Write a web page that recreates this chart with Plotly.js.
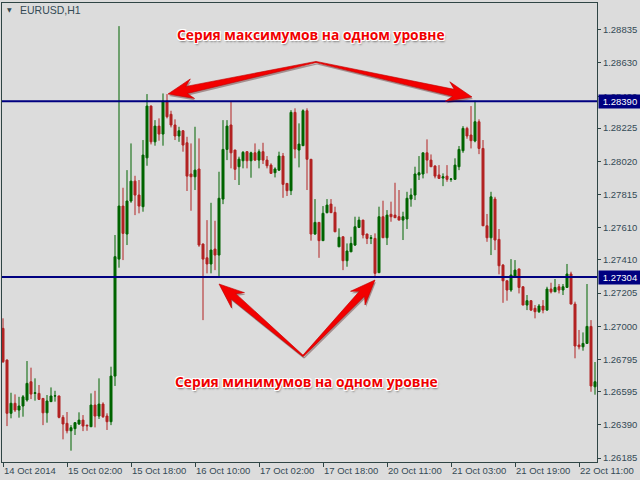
<!DOCTYPE html>
<html><head><meta charset="utf-8">
<script src="https://cdn.plot.ly/plotly-3.0.1.min.js"></script>
<style>html,body{margin:0;padding:0;background:#dcdcdc}</style>
</head><body>
<div id="chart" style="width:640px;height:480px"></div>
<script>
// ---- data (EURUSD H1) ----
const open  = [1.26987,1.26791,1.26462,1.26524,1.26482,1.26507,1.26544,1.26657,1.26585,1.26585,
1.26554,1.26465,1.26534,1.26569,1.26569,1.26437,1.26400,1.26354,1.26367,1.26396,
1.26420,1.26389,1.26379,1.26513,1.26445,1.26519,1.26445,1.26410,1.26692,1.27415,
1.27743,1.27570,1.27774,1.27897,1.27811,1.27739,1.28041,1.28361,1.28140,1.28237,
1.28188,1.28392,1.28310,1.28244,1.28176,1.28208,1.28134,1.27941,1.27924,1.27972,
1.27508,1.27423,1.27385,1.27477,1.27440,1.27786,1.28093,1.28244,1.28089,1.27986,
1.28023,1.28079,1.28023,1.28072,1.28027,1.28079,1.28027,1.27996,1.27949,1.27965,
1.28052,1.27883,1.27838,1.28322,1.28089,1.28116,1.28332,1.28032,1.27570,1.27642,
1.27529,1.27702,1.27755,1.27704,1.27491,1.27553,1.27405,1.27460,1.27502,1.27611,
1.27656,1.27570,1.27543,1.27543,1.27331,1.27677,1.27547,1.27692,1.27687,1.27677,
1.27656,1.27663,1.27786,1.27811,1.27935,1.27941,1.28072,1.28027,1.27990,1.27935,
1.27916,1.27928,1.27908,1.27908,1.27986,1.28085,1.28223,1.28182,1.28145,1.28264,
1.28099,1.27621,1.27547,1.27786,1.27537,1.27378,1.27281,1.27224,1.27310,1.27354,
1.27244,1.27131,1.27158,1.27111,1.27090,1.27125,1.27100,1.27230,1.27213,1.27244,
1.27224,1.27240,1.27323,1.27137,1.26884,1.26873,1.26894,1.26999,1.26626];
const high  = [1.27049,1.26795,1.26589,1.26579,1.26564,1.26575,1.26785,1.26744,1.26678,1.26637,
1.26556,1.26575,1.26622,1.26601,1.26571,1.26451,1.26470,1.26389,1.26408,1.26468,
1.26451,1.26390,1.26585,1.26601,1.26678,1.26530,1.26462,1.26750,1.27564,1.28855,
1.27856,1.27965,1.28130,1.27930,1.27904,1.28151,1.28435,1.28365,1.28274,1.28285,
1.28439,1.28435,1.28332,1.28279,1.28233,1.28213,1.28171,1.28130,1.28233,1.28161,
1.27512,1.27656,1.27763,1.27652,1.27955,1.28274,1.28274,1.28388,1.28091,1.28048,
1.28083,1.28083,1.28079,1.28130,1.28093,1.28134,1.28052,1.28007,1.27982,1.28079,
1.28071,1.27885,1.28336,1.28347,1.28254,1.28341,1.28347,1.28033,1.27786,1.27644,
1.27743,1.27786,1.27786,1.27739,1.27605,1.27555,1.27512,1.27553,1.27677,1.27677,
1.27658,1.27572,1.27564,1.27574,1.27739,1.27776,1.27718,1.27770,1.27887,1.27842,
1.27708,1.27831,1.27852,1.27986,1.28052,1.28072,1.28155,1.28062,1.27996,1.27996,
1.27945,1.27996,1.27916,1.28038,1.28114,1.28237,1.28233,1.28361,1.28394,1.28279,
1.28151,1.27694,1.27831,1.27800,1.27601,1.27385,1.27283,1.27415,1.27409,1.27356,
1.27246,1.27193,1.27162,1.27131,1.27137,1.27162,1.27244,1.27269,1.27292,1.27261,
1.27261,1.27385,1.27337,1.27152,1.26977,1.26962,1.27261,1.27038,1.26779];
const low   = [1.26773,1.26383,1.26431,1.26470,1.26435,1.26441,1.26534,1.26550,1.26540,1.26544,
1.26389,1.26404,1.26532,1.26534,1.26431,1.26301,1.26338,1.26231,1.26328,1.26390,
1.26352,1.26354,1.26379,1.26375,1.26427,1.26433,1.26359,1.26389,1.26631,1.27362,
1.27409,1.27502,1.27763,1.27687,1.27698,1.27708,1.27992,1.28124,1.28116,1.28147,
1.28116,1.28285,1.28229,1.28151,1.28140,1.28079,1.27836,1.27714,1.27842,1.27491,
1.27038,1.27327,1.27327,1.27347,1.27302,1.27755,1.28027,1.27976,1.27904,1.27873,
1.27976,1.27976,1.27918,1.28021,1.27976,1.28003,1.27976,1.27941,1.27920,1.27961,
1.27794,1.27805,1.27811,1.28038,1.27982,1.28114,1.27842,1.27529,1.27565,1.27423,
1.27527,1.27698,1.27700,1.27582,1.27491,1.27347,1.27368,1.27459,1.27496,1.27607,
1.27543,1.27508,1.27508,1.27298,1.27331,1.27547,1.27502,1.27646,1.27669,1.27656,
1.27533,1.27601,1.27739,1.27780,1.27904,1.27914,1.27945,1.27986,1.27914,1.27914,
1.27866,1.27893,1.27893,1.27908,1.27965,1.28072,1.28159,1.28099,1.28137,1.28064,
1.27621,1.27522,1.27440,1.27471,1.27321,1.27145,1.27158,1.27213,1.27310,1.27203,
1.27131,1.27100,1.27094,1.27049,1.27082,1.27080,1.27096,1.27203,1.27213,1.27203,
1.27193,1.27240,1.27137,1.26802,1.26857,1.26849,1.26894,1.26595,1.26577];
const close = [1.26781,1.26462,1.26524,1.26482,1.26507,1.26564,1.26647,1.26581,1.26589,1.26548,
1.26465,1.26538,1.26569,1.26570,1.26437,1.26396,1.26354,1.26373,1.26404,1.26420,
1.26383,1.26385,1.26513,1.26445,1.26519,1.26441,1.26410,1.26692,1.27430,1.27743,
1.27574,1.27774,1.27897,1.27811,1.27743,1.28058,1.28361,1.28140,1.28237,1.28188,
1.28392,1.28295,1.28244,1.28176,1.28208,1.28120,1.27928,1.27924,1.27965,1.27502,
1.27415,1.27385,1.27471,1.27440,1.27791,1.28093,1.28237,1.28072,1.27970,1.28033,
1.28075,1.28023,1.28072,1.28027,1.28079,1.28027,1.27992,1.27945,1.27972,1.28052,
1.27877,1.27838,1.28322,1.28095,1.28126,1.28332,1.28032,1.27570,1.27642,1.27529,
1.27698,1.27749,1.27702,1.27584,1.27550,1.27405,1.27465,1.27512,1.27615,1.27656,
1.27564,1.27543,1.27547,1.27327,1.27677,1.27547,1.27687,1.27677,1.27671,1.27656,
1.27677,1.27791,1.27811,1.27941,1.27949,1.28072,1.28027,1.27986,1.27928,1.27914,
1.27924,1.27908,1.27910,1.27996,1.28093,1.28223,1.28176,1.28147,1.28264,1.28099,
1.27621,1.27547,1.27800,1.27533,1.27374,1.27281,1.27224,1.27317,1.27347,1.27240,
1.27131,1.27158,1.27100,1.27090,1.27125,1.27100,1.27230,1.27213,1.27240,1.27224,
1.27244,1.27323,1.27137,1.26878,1.26873,1.26894,1.26999,1.26631,1.26657];

const xTickBars  = [0,16,32,48,64,80,96,112,128,144];
const xTickText  = ["14 Oct 2014","15 Oct 02:00","15 Oct 18:00","16 Oct 10:00","17 Oct 02:00",
                    "17 Oct 18:00","20 Oct 11:00","21 Oct 03:00","21 Oct 19:00","22 Oct 11:00"];
const yTickText  = ["1.28835","1.28630","1.28420","1.28225","1.28020","1.27815","1.27610",
                    "1.27410","1.27205","1.27000","1.26795","1.26595","1.26390","1.26185"];
const levels     = [1.28390, 1.27304];
const symbolText = "EURUSD,H1";
const topNote    = "Серия максимумов на одном уровне";
const bottomNote = "Серия минимумов на одном уровне";

// ---- styling / layout helpers ----
const bars = open.map((_, i) => i);
const axisColor = '#2f4545', textColor = '#344a55';
const M = {l:2, r:43, t:3, b:18}, W = 640 - M.l - M.r, H = 480 - M.t - M.b;
const px = x => (x - M.l) / W;
const py = y => 1 - (y - M.t) / H;

function arrowPath(x0, y0, x1, y1, ox, oy) {
  ox = ox || 0; oy = oy || 0;
  const dx = x1 - x0, dy = y1 - y0, len = Math.hypot(dx, dy);
  const ux = dx / len, uy = dy / len, nx = -uy, ny = ux;
  const Lh = 22, Wh = 10, w0 = 0.6, w1 = 3.6;
  const bx = x1 - ux * Lh, by = y1 - uy * Lh;
  const pts = [
    [x0 + nx * w0, y0 + ny * w0],
    [bx + ux * 3 + nx * w1, by + uy * 3 + ny * w1],
    [bx - ux * 3 + nx * Wh, by - uy * 3 + ny * Wh],
    [x1, y1],
    [bx - ux * 3 - nx * Wh, by - uy * 3 - ny * Wh],
    [bx + ux * 3 - nx * w1, by + uy * 3 - ny * w1],
    [x0 - nx * w0, y0 - ny * w0]
  ];
  return 'M' + pts.map(p => px(p[0] + ox).toFixed(5) + ',' + py(p[1] + oy).toFixed(5)).join(' L') + ' Z';
}
const arrowDefs = [[316, 62, 168, 94], [316, 62, 472, 97], [303, 356, 219, 284], [303, 356, 375, 280]];

const shapes = [];
levels.forEach(v => shapes.push({type:'line', xref:'paper', x0:0, x1:1, yref:'y', y0:v, y1:v,
  line:{color:'#000080', width:2}, layer:'above'}));
arrowDefs.forEach(a => shapes.push({type:'path', xref:'paper', yref:'paper',
  path: arrowPath(a[0], a[1], a[2], a[3], 1, 2), fillcolor:'rgba(60,0,0,0.35)', line:{width:0}}));
arrowDefs.forEach(a => shapes.push({type:'path', xref:'paper', yref:'paper',
  path: arrowPath(a[0], a[1], a[2], a[3]), fillcolor:'#f20000', line:{color:'#c00000', width:0.6}}));

const halo = '-1px -1px 0 #fff, 1px -1px 0 #fff, -1px 1px 0 #fff, 1px 1px 0 #fff, 0 -1px 0 #fff, 0 1px 0 #fff, 1px 2px 2px rgba(0,0,0,0.45)';
const annotations = [
  {xref:'paper', yref:'paper', x:px(18), y:py(10), xanchor:'left', yanchor:'middle', showarrow:false,
   text:symbolText, font:{family:'Liberation Sans, Arial', size:10.5, color:textColor}},
  {xref:'paper', yref:'paper', x:px(9.5), y:py(10), xanchor:'center', yanchor:'middle', showarrow:false,
   text:'▼', font:{family:'DejaVu Sans', size:6, color:textColor}},
  {xref:'paper', yref:'paper', x:px(311), y:py(34), xanchor:'center', yanchor:'middle', showarrow:false,
   text:'<b>' + topNote + '</b>', font:{family:'Open Sans', size:13.8, color:'#f00000', shadow:halo}},
  {xref:'paper', yref:'paper', x:px(306.5), y:py(381), xanchor:'center', yanchor:'middle', showarrow:false,
   text:'<b>' + bottomNote + '</b>', font:{family:'Open Sans', size:13.8, color:'#f00000', shadow:halo}}
];
levels.forEach(v => annotations.push({xref:'paper', x:1, xanchor:'left', xshift:1, yref:'y', y:v,
  yanchor:'middle', showarrow:false, text:v.toFixed(5), bgcolor:'#000080', borderpad:1, width:40,
  font:{family:'Liberation Sans, Arial', size:9.5, color:'#ffffff'}}));

const trace = {
  type:'candlestick', x:bars, open:open, high:high, low:low, close:close,
  increasing:{line:{color:'#006400', width:1}, fillcolor:'#006400'},
  decreasing:{line:{color:'#b22222', width:1}, fillcolor:'#b22222'},
  whiskerwidth:0, hoverinfo:'skip', showlegend:false
};

const tickFont = {family:'Liberation Sans, Arial', size:9.5, color:textColor};
const layout = {
  width:640, height:480, margin:{l:M.l, r:M.r, t:M.t, b:M.b, pad:0},
  paper_bgcolor:'#dcdcdc', plot_bgcolor:'#dcdcdc', showlegend:false,
  boxgap:0.5, boxgroupgap:0,
  xaxis:{range:[-0.25, 148.5], tickmode:'array', tickvals:xTickBars, ticktext:xTickText,
    ticks:'outside', ticklen:4, tickcolor:axisColor, tickwidth:1, ticklabelposition:'outside right',
    showline:true, linecolor:axisColor, linewidth:1, mirror:true, showgrid:false, zeroline:false,
    rangeslider:{visible:false}, tickfont:tickFont, fixedrange:true},
  yaxis:{side:'right', range:[1.26161, 1.28998], tickmode:'array',
    tickvals:yTickText.map(Number), ticktext:yTickText,
    ticks:'outside', ticklen:3, tickcolor:axisColor, tickwidth:1,
    showline:true, linecolor:axisColor, linewidth:1, mirror:true, showgrid:false, zeroline:false,
    tickfont:tickFont, fixedrange:true},
  shapes:shapes, annotations:annotations
};
Plotly.newPlot('chart', [trace], layout, {staticPlot:true, displayModeBar:false});
</script>
</body></html>
